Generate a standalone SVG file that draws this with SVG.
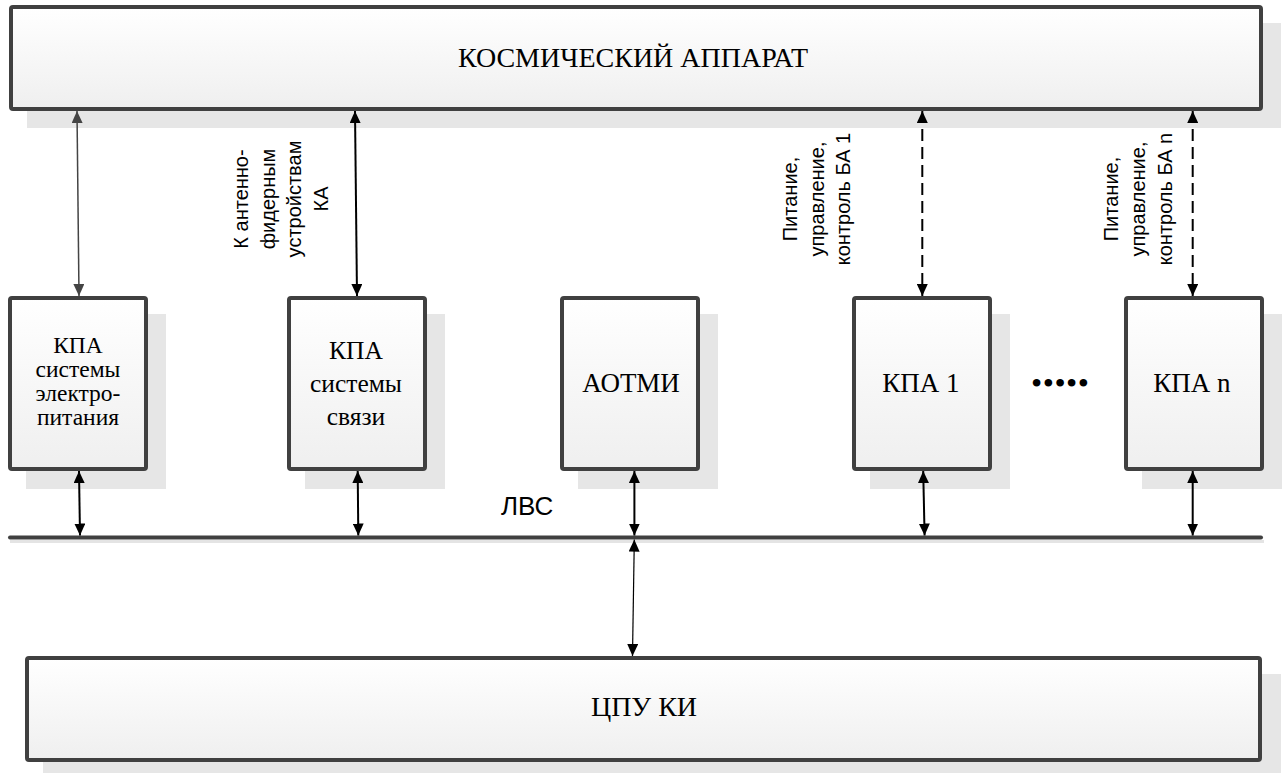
<svg xmlns="http://www.w3.org/2000/svg" width="1288" height="773" viewBox="0 0 1288 773">
<style>
.shadow{fill:#e6e6e6;}
.box{fill:url(#g);stroke:#404040;stroke-width:4;}
.t{font-family:"Liberation Serif","Times New Roman",serif;fill:#000;text-anchor:middle;}
.s{font-family:"Liberation Sans",Arial,sans-serif;fill:#000;}
.c{stroke:#000;stroke-width:2;fill:none;marker-start:url(#a);marker-end:url(#a);}
.cg{stroke:#444;stroke-width:1.5;fill:none;marker-start:url(#ag);marker-end:url(#ag);}
.cd{stroke-dasharray:12 6;}
.c1{stroke:#000;stroke-width:1.2;fill:none;marker-start:url(#a);marker-end:url(#a);}
</style>
<defs>
<linearGradient id="g" x1="0" y1="0" x2="0" y2="1">
<stop offset="0" stop-color="#ffffff"/>
<stop offset="1" stop-color="#efefef"/>
</linearGradient>
<marker id="a" viewBox="0 0 12 11" markerWidth="12" markerHeight="11" refX="12" refY="5.5" orient="auto-start-reverse" markerUnits="userSpaceOnUse">
<path d="M0,0 L12,5.5 L0,11 Z" fill="#000"/>
</marker>
<marker id="ag" viewBox="0 0 12 11" markerWidth="12" markerHeight="11" refX="12" refY="5.5" orient="auto-start-reverse" markerUnits="userSpaceOnUse">
<path d="M0,0 L12,5.5 L0,11 Z" fill="#444"/>
</marker>
</defs>
<rect width="1288" height="773" fill="#fff"/>

<g id="ka">
<rect class="shadow" x="27" y="23" width="1254" height="105"/>
<rect class="box" x="11" y="7" width="1250" height="102" rx="2"/>
<text class="t" x="633" y="67" font-size="28">КОСМИЧЕСКИЙ АППАРАТ</text>
</g>

<g id="kpa-sep">
<rect class="shadow" x="26" y="314" width="140" height="175"/>
<rect class="box" x="10" y="298" width="136" height="171" rx="2"/>
<text class="t" font-size="23.5"><tspan x="78" y="353">КПА</tspan><tspan x="78" y="377">системы</tspan><tspan x="78" y="401">электро-</tspan><tspan x="78" y="425">питания</tspan></text>
</g>

<g id="kpa-ss">
<rect class="shadow" x="305" y="314" width="140" height="175"/>
<rect class="box" x="289" y="298" width="136" height="171" rx="2"/>
<text class="t" font-size="25.5"><tspan x="356" y="359">КПА</tspan><tspan x="356" y="392">системы</tspan><tspan x="356" y="425">связи</tspan></text>
</g>

<g id="aotmi">
<rect class="shadow" x="578" y="314" width="140" height="175"/>
<rect class="box" x="562" y="298" width="136" height="171" rx="2"/>
<text class="t" x="631" y="392" font-size="27">АОТМИ</text>
</g>

<g id="kpa1">
<rect class="shadow" x="870" y="314" width="140" height="175"/>
<rect class="box" x="854" y="298" width="136" height="171" rx="2"/>
<text class="t" x="921" y="392" font-size="27">КПА 1</text>
</g>

<g id="dots">
<text x="1031" y="393.5" font-family="Liberation Serif,serif" font-size="32" textLength="58">•••••</text>
</g>

<g id="kpan">
<rect class="shadow" x="1142" y="314" width="140" height="175"/>
<rect class="box" x="1126" y="298" width="136" height="171" rx="2"/>
<text class="t" x="1192" y="392" font-size="27">КПА n</text>
</g>

<g id="lvs">
<line x1="10" y1="541.5" x2="1264" y2="541.5" stroke="#e4e4e4" stroke-width="3"/>
<line x1="10" y1="537.5" x2="1261" y2="537.5" stroke="#404040" stroke-width="4" stroke-linecap="round"/>
<text class="s" x="501" y="515" font-size="26">ЛВС</text>
</g>

<g id="cpu">
<rect class="shadow" x="43" y="674" width="1238" height="99"/>
<rect class="box" x="27" y="658" width="1233" height="102" rx="2"/>
<text class="t" x="644" y="716" font-size="28">ЦПУ КИ</text>
</g>

<g id="connectors">
<line class="cg" x1="77" y1="111" x2="79" y2="296"/>
<line class="c" x1="355" y1="111" x2="357" y2="296"/>
<line class="c cd" x1="922.3" y1="111" x2="922.3" y2="296"/>
<line class="c cd" x1="1192.7" y1="111" x2="1192.7" y2="296"/>
<line class="c" x1="79" y1="471" x2="80" y2="535.5"/>
<line class="c" x1="357.7" y1="471" x2="358.3" y2="535.5"/>
<line class="c" x1="634.4" y1="471" x2="634.4" y2="535.5"/>
<line class="c" x1="923.2" y1="471" x2="924.6" y2="535.5"/>
<line class="c" x1="1192.7" y1="471" x2="1192.7" y2="535.5"/>
<line class="c1" x1="634.3" y1="539.6" x2="632.5" y2="656"/>
</g>

<g id="labels">
<text class="s" font-size="20" text-anchor="middle" transform="translate(0,199) rotate(-90)"><tspan x="0" y="248">К антенно-</tspan><tspan x="0" y="274.5">фидерным</tspan><tspan x="0" y="301">устройствам</tspan><tspan x="0" y="327.5">КА</tspan></text>
<text class="s" font-size="20" text-anchor="middle" transform="translate(0,199) rotate(-90)"><tspan x="0" y="797">Питание,</tspan><tspan x="0" y="823.5">управление,</tspan><tspan x="0" y="850">контроль БА 1</tspan></text>
<text class="s" font-size="20" text-anchor="middle" transform="translate(0,199) rotate(-90)"><tspan x="0" y="1118">Питание,</tspan><tspan x="0" y="1145">управление,</tspan><tspan x="0" y="1172">контроль БА n</tspan></text>
</g>
</svg>
